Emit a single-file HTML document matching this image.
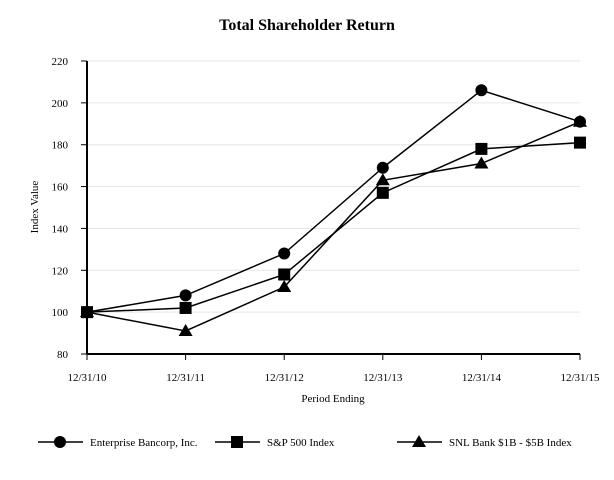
<!DOCTYPE html>
<html><head><meta charset="utf-8"><style>
body{margin:0;background:#fff;}
svg{display:block;font-family:"Liberation Serif",serif;}
</style></head><body>
<svg id="chart" width="614" height="480">
<text x="307" y="30" text-anchor="middle" font-size="16" font-weight="bold">Total Shareholder Return</text>
<text transform="translate(38,207) rotate(-90)" text-anchor="middle" font-size="11">Index Value</text>
<text x="333" y="402" text-anchor="middle" font-size="11">Period Ending</text>
<g id="grid"></g><g id="axes"></g><g id="series"></g><g id="legend"></g>
</svg>
<script>
const categories=["12/31/10","12/31/11","12/31/12","12/31/13","12/31/14","12/31/15"];
const yTicks=[80,100,120,140,160,180,200,220];
const enterprise=[100,108,128,169,206,191];
const sp500=[100,102,118,157,178,181];
const snl=[100,91,112,163,171,191];
const seriesNames=["Enterprise Bancorp, Inc.","S&P 500 Index","SNL Bank $1B - $5B Index"];
const NS="http://www.w3.org/2000/svg";
const X0=87,X1=580,Y0=354,Y1=61,YMIN=80,YMAX=220;
const xs=i=>X0+(X1-X0)*i/(categories.length-1);
const ys=v=>Y0-(v-YMIN)*(Y0-Y1)/(YMAX-YMIN);
function mk(tag,attrs,parent){const e=document.createElementNS(NS,tag);for(const k in attrs)e.setAttribute(k,attrs[k]);parent.appendChild(e);return e;}
const grid=document.getElementById('grid'),axes=document.getElementById('axes'),ser=document.getElementById('series'),leg=document.getElementById('legend');
yTicks.forEach(t=>{
  if(t>YMIN){const g=mk('line',{x1:X0,x2:X1,y1:ys(t),y2:ys(t),stroke:'#e6e6e6','stroke-width':1},grid);
  
  }
  const tk=mk('line',{x1:X0-6,x2:X0,y1:ys(t),y2:ys(t),stroke:'#000'},axes);
  
  
  const tx=mk('text',{x:X0-19,y:ys(t)+4,'text-anchor':'end','font-size':11},axes);tx.textContent=t;
  
  
});
categories.forEach((c,i)=>{
  const tk=mk('line',{x1:xs(i),x2:xs(i),y1:Y0,y2:Y0+6,stroke:'#000'},axes);
  
  
  const tx=mk('text',{x:xs(i),y:Y0+27,'text-anchor':'middle','font-size':11},axes);tx.textContent=c;
  
  
});
const ya=mk('line',{x1:X0,x2:X0,y1:Y1,y2:Y0,stroke:'#000','stroke-width':2},axes);


const xa=mk('line',{x1:X0,x2:X1,y1:Y0,y2:Y0,stroke:'#000','stroke-width':2},axes);


function marker(type,x,y,p){
  if(type==='circle')return mk('circle',{cx:x,cy:y,r:6,fill:'#000'},p);
  if(type==='square')return mk('rect',{x:x-6,y:y-6,width:12,height:12,fill:'#000'},p);
  return mk('polygon',{points:`${x},${y-7} ${x-7},${y+5} ${x+7},${y+5}`,fill:'#000'},p);
}
const data=[enterprise,sp500,snl],types=['circle','square','triangle'],keys=['enterprise','sp500','snl'];
data.forEach((d,s)=>{
  const pl=mk('polyline',{points:d.map((v,i)=>xs(i)+','+ys(v)).join(' '),fill:'none',stroke:'#000','stroke-width':1.5},ser);
  
  
  d.forEach((v,i)=>{const m=marker(types[s],xs(i),ys(v),ser);
    
    });
});
const lx=[38,215,397];
seriesNames.forEach((n,s)=>{
  const g=mk('g',{},leg);
  
  
  mk('line',{x1:lx[s],x2:lx[s]+45,y1:442,y2:442,stroke:'#000','stroke-width':1.5},g);
  marker(types[s],lx[s]+22,442,g);
  const t=mk('text',{x:lx[s]+52,y:446,'font-size':11},g);t.textContent=n;
});
</script>
</body></html>
